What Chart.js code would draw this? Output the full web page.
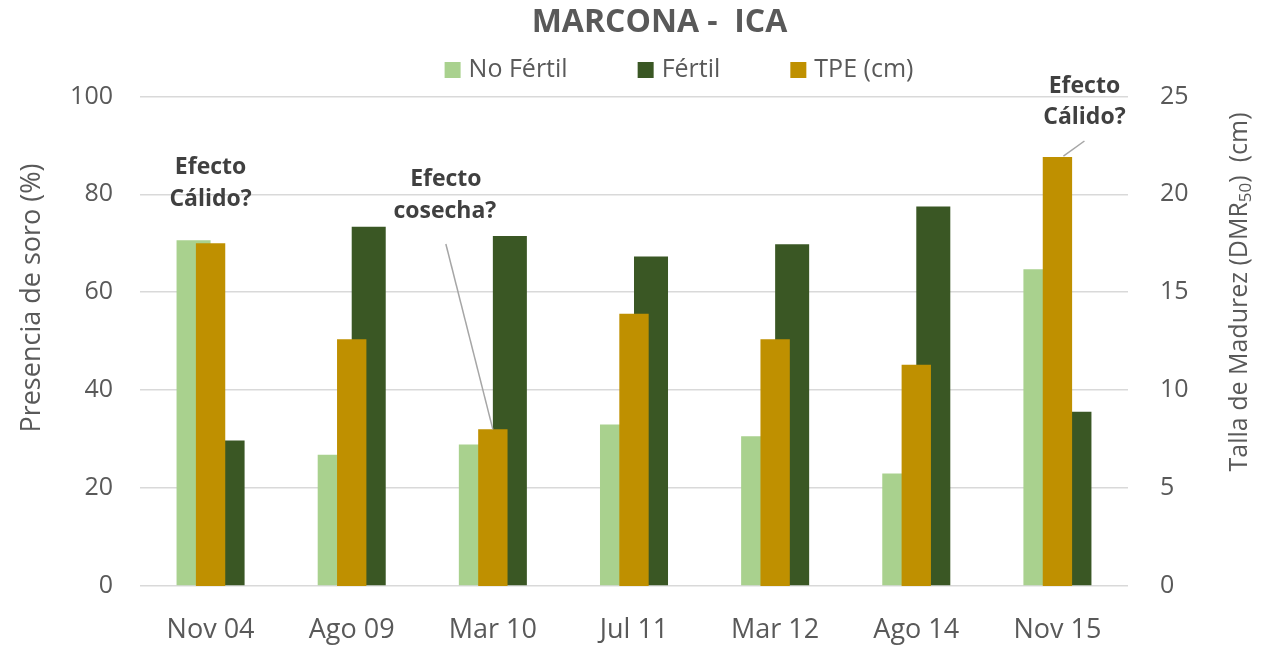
<!DOCTYPE html>
<html>
<head>
<meta charset="utf-8">
<script src="https://cdn.jsdelivr.net/npm/chart.js@4.4.1/dist/chart.umd.min.js"></script>
<style>
  html, body { margin: 0; padding: 0; background: #fff; }
  #wrap { width: 1283px; height: 646px; }
</style>
</head>
<body>
<div id="wrap"><canvas id="soroChart" width="1283" height="646"></canvas></div>
<script>
// data
const categories = ['Nov 04', 'Ago 09', 'Mar 10', 'Jul 11', 'Mar 12', 'Ago 14', 'Nov 15'];
const noFertil = [70.6, 26.8, 28.9, 33.0, 30.6, 23.0, 64.7];
const fertil = [29.7, 73.4, 71.5, 67.3, 69.8, 77.5, 35.6];
const tpe = [17.5, 12.6, 8.0, 13.9, 12.6, 11.3, 21.9];
const leftTicks = [0, 20, 40, 60, 80, 100];
const rightTicks = [0, 5, 10, 15, 20, 25];

const FONT = '"Open Sans", sans-serif';
const TEXT = '#595959';

// legend, axis titles and the notes over the bars
const extrasPlugin = {
    id: 'extras',
    afterLayout(chart) {
        // Excel title sits a bit right of centre
        chart.titleBlock.left += 18;
        chart.titleBlock.right += 18;
    },
    afterDraw(chart) {
        const ctx = chart.ctx;
        const x = chart.scales.x;
        const y2 = chart.scales.y2;
        ctx.save();

        // legend
        ctx.font = '25px ' + FONT;
        ctx.textBaseline = 'middle';
        ctx.textAlign = 'left';
        const items = chart.data.datasets.map(ds => ({ text: ds.label, color: ds.backgroundColor }));
        const gap = 70;
        let total = 0;
        items.forEach((it, i) => {
            it.w = 16 + 8 + ctx.measureText(it.text).width;
            total += it.w + (i > 0 ? gap : 0);
        });
        let lx = 679 - total / 2;
        items.forEach(it => {
            ctx.fillStyle = it.color;
            ctx.fillRect(lx, 62, 16, 16);
            ctx.fillStyle = TEXT;
            ctx.fillText(it.text, lx + 24, 70);
            lx += it.w + gap;
        });

        // left axis title
        ctx.save();
        ctx.translate(32, 298);
        ctx.rotate(-Math.PI / 2);
        ctx.textAlign = 'center';
        ctx.fillStyle = TEXT;
        ctx.font = '27px ' + FONT;
        ctx.fillText('Presencia de soro (%)', 0, 0);
        ctx.restore();

        // right axis title, with subscript
        ctx.save();
        ctx.translate(1240, 292);
        ctx.rotate(-Math.PI / 2);
        ctx.textAlign = 'left';
        ctx.fillStyle = TEXT;
        const parts = [
            { t: 'Talla de Madurez (DMR', f: '25px ' + FONT, dy: 0 },
            { t: '50', f: '17px ' + FONT, dy: 6 },
            { t: ')  (cm)', f: '25px ' + FONT, dy: 0 }
        ];
        let w = 0;
        parts.forEach(p => { ctx.font = p.f; p.w = ctx.measureText(p.t).width; w += p.w; });
        let px = -w / 2;
        parts.forEach(p => { ctx.font = p.f; ctx.fillText(p.t, px, p.dy); px += p.w; });
        ctx.restore();

        // notes
        ctx.font = 'bold 23px ' + FONT;
        ctx.fillStyle = '#404040';
        ctx.textAlign = 'center';
        ctx.strokeStyle = '#A6A6A6';
        ctx.lineWidth = 1.5;

        const c0 = x.getPixelForValue(0);
        const t0 = y2.getPixelForValue(tpe[0]);
        ctx.fillText('Efecto', c0, t0 - 76);
        ctx.fillText('Cálido?', c0, t0 - 44);

        const c2 = x.getPixelForValue(2);
        const t2 = y2.getPixelForValue(tpe[2]);
        ctx.fillText('Efecto', c2 - 47, 179);
        ctx.fillText('cosecha?', c2 - 48, 211);
        ctx.beginPath();
        ctx.moveTo(c2 - 47, 244);
        ctx.lineTo(c2, t2);
        ctx.stroke();

        const c6 = x.getPixelForValue(6);
        const t6 = y2.getPixelForValue(tpe[6]);
        ctx.fillText('Efecto', c6 + 27, 86);
        ctx.fillText('Cálido?', c6 + 27, 117);
        ctx.beginPath();
        ctx.moveTo(c6 + 27, 141);
        ctx.lineTo(c6 + 6, t6 - 1);
        ctx.stroke();

        ctx.restore();
    }
};

const ctx = document.getElementById('soroChart').getContext('2d');
const soroChart = new Chart(ctx, {
    type: 'bar',
    data: {
        labels: categories,
        datasets: [{
            label: 'No Fértil',
            data: noFertil,
            backgroundColor: '#A9D18E',
            yAxisID: 'y',
            order: 1,
            categoryPercentage: 0.482,
            barPercentage: 1
        }, {
            label: 'Fértil',
            data: fertil,
            backgroundColor: '#3A5724',
            yAxisID: 'y',
            order: 1,
            categoryPercentage: 0.482,
            barPercentage: 1
        }, {
            // secondary axis series: not grouped, sits centred over the pair
            label: 'TPE (cm)',
            data: tpe,
            backgroundColor: '#BF9000',
            yAxisID: 'y2',
            order: 0,
            grouped: false,
            categoryPercentage: 0.208,
            barPercentage: 1
        }]
    },
    options: {
        responsive: false,
        devicePixelRatio: 1,
        animation: false,
        layout: { padding: 0 },
        plugins: {
            legend: { display: false },
            tooltip: { enabled: false },
            title: {
                display: true,
                text: 'MARCONA -  ICA',
                color: TEXT,
                font: { family: FONT, size: 32, weight: 'bold' },
                padding: { top: 4, bottom: 54 }
            }
        },
        scales: {
            x: {
                position: 'bottom',
                grid: { display: false },
                border: { display: false },
                ticks: {
                    color: TEXT,
                    font: { family: FONT, size: 27 },
                    padding: 20,
                    maxRotation: 0
                },
                afterFit: s => { s.height = 60; }
            },
            y: {
                position: 'left',
                min: 0,
                max: 100,
                afterBuildTicks: s => { s.ticks = leftTicks.map(v => ({ value: v })); },
                grid: { color: '#D9D9D9', lineWidth: 1.5, drawTicks: false },
                border: { display: false },
                ticks: {
                    color: TEXT,
                    font: { family: FONT, size: 25 },
                    padding: 27
                },
                afterFit: s => { s.width = 140; }
            },
            y2: {
                type: 'linear',
                position: 'right',
                min: 0,
                max: 25,
                afterBuildTicks: s => { s.ticks = rightTicks.map(v => ({ value: v })); },
                grid: { display: false, drawTicks: false },
                border: { display: false },
                ticks: {
                    color: TEXT,
                    font: { family: FONT, size: 25 },
                    padding: 32
                },
                afterFit: s => { s.width = 155; }
            }
        }
    },
    plugins: [extrasPlugin]
});
</script>
</body>
</html>
